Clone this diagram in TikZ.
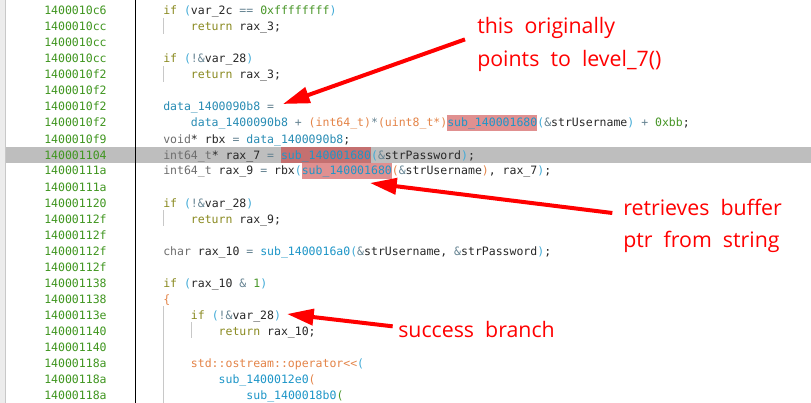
\documentclass[tikz,border=0pt]{standalone}
\usepackage{fontspec}
\usetikzlibrary{arrows.meta}
\usetikzlibrary{positioning}
\newfontfamily\codefont{DejaVu Sans Mono}
\newfontfamily\notefont{Open Sans}[WordSpace=2]

\definecolor{addrcol}{RGB}{64,150,32}
\definecolor{kwcol}{RGB}{138,138,32}
\definecolor{pncol}{RGB}{64,170,215}
\definecolor{orcol}{RGB}{228,132,72}
\definecolor{opcol}{RGB}{100,130,145}
\definecolor{numcol}{RGB}{72,150,40}
\definecolor{idcol}{RGB}{40,40,40}
\definecolor{fncol}{RGB}{30,150,200}
\definecolor{dtcol}{RGB}{40,140,180}
\definecolor{tycol}{RGB}{110,110,110}
\definecolor{hlcol}{RGB}{224,144,144}
\definecolor{hldcol}{RGB}{196,112,112}
\definecolor{selrow}{RGB}{190,190,190}
\definecolor{guidecol}{RGB}{200,200,200}
\definecolor{gutterbg}{RGB}{236,236,236}
\definecolor{notered}{RGB}{255,0,0}

\newcommand\ckw[1]{\textcolor{kwcol}{#1}}
\newcommand\cpn[1]{\textcolor{pncol}{#1}}
\newcommand\cor[1]{\textcolor{orcol}{#1}}
\newcommand\cop[1]{\textcolor{opcol}{#1}}
\newcommand\cnum[1]{\textcolor{numcol}{#1}}
\newcommand\cfn[1]{\textcolor{fncol}{#1}}
\newcommand\cdat[1]{\textcolor{dtcol}{#1}}
\newcommand\cty[1]{\textcolor{tycol}{#1}}
\newcommand\chl[2]{{\setlength{\fboxsep}{0pt}\colorbox{#1}{\vrule height 9pt depth 3pt width 0pt#2}}}

\tikzstyle{code}     = [anchor=base west, inner sep=0pt, text=idcol, font=\codefont\fontsize{8.63}{12}\selectfont]
\tikzstyle{addr}     = [code, text=addrcol]
\tikzstyle{note}     = [anchor=base west, inner sep=0pt, text=notered, font=\notefont\fontsize{16}{24}\selectfont]
\tikzstyle{guide}    = [guidecol, line width=0.75pt]
\tikzstyle{redarrow} = [notered, line width=3pt, -{Triangle[length=20pt,width=12pt]}]

\begin{document}
\begin{tikzpicture}[x=0.75pt,y=-0.75pt]
  % Canvas
  \useasboundingbox (0,0) rectangle (811,403);
  \fill[white] (0,0) rectangle (811,403);
  % Selected line
  \fill[selrow] (5,147) rectangle (811,163);
  % Gutter and separator
  \fill[gutterbg] (0,0) rectangle (5,403);
  \draw[guide] (5.5,0) -- (5.5,403);
  \draw[black, line width=0.75pt] (135.5,0) -- (135.5,403);
  % Indent guides
  \draw[guide] (163.5,18) -- (163.5,34);
  \draw[guide] (163.5,66) -- (163.5,82);
  \draw[guide] (163.5,210) -- (163.5,226);
  \draw[guide] (163.5,306) -- (163.5,403);
  \draw[guide] (191.2,322) -- (191.2,338);

  % Addresses
  \foreach \a [count=\i from 0] in {1400010c6,1400010cc,1400010cc,1400010cc,1400010f2,1400010f2,1400010f2,1400010f2,1400010f9,140001104,14000111a,14000111a,140001120,14000112f,14000112f,14000112f,14000112f,140001138,140001138,14000113e,140001140,140001140,14000118a,14000118a,14000118a}
    \node[addr] (a\i) at (44,15+16*\i) {\a};

  % Code
  \node[code] (c0) at (163,15) {\ckw{if} \cpn{(}var\_2c \cop{==} \cnum{0xffffffff}\cpn{)}};
  \node[code] (c1) at (190.7,31) {\ckw{return} rax\_3;};
  \node[code] (c3) at (163,63) {\ckw{if} \cpn{(}\cop{!\&}var\_28\cpn{)}};
  \node[code] (c4) at (190.7,79) {\ckw{return} rax\_3;};
  \node[code] (c6) at (163,111) {\cdat{data\_1400090b8} \cop{=}};
  \node[code] (c7) at (190.7,127) {\cdat{data\_1400090b8} \cop{+} \cor{(int64\_t)}\cop{*}\cor{(uint8\_t*)}\chl{hlcol}{\cfn{sub\_140001680}}\cpn{(}\cop{\&}strUsername\cpn{)} \cop{+} \cnum{0xbb};};
  \node[code] (c8) at (163,143) {\cty{void}* rbx \cop{=} \cdat{data\_1400090b8};};
  \node[code] (c9) at (163,159) {\cty{int64\_t}* rax\_7 \cop{=} \chl{hldcol}{\cfn{sub\_140001680}}\cpn{(}\cop{\&}strPassword\cpn{)};};
  \node[code] (c10) at (163,175) {\cty{int64\_t} rax\_9 \cop{=} rbx\cpn{(}\chl{hlcol}{\cfn{sub\_140001680}}\cor{(}\cop{\&}strUsername\cor{)}, rax\_7\cpn{)};};
  \node[code] (c12) at (163,207) {\ckw{if} \cpn{(}\cop{!\&}var\_28\cpn{)}};
  \node[code] (c13) at (190.7,223) {\ckw{return} rax\_9;};
  \node[code] (c15) at (163,255) {\cty{char} rax\_10 \cop{=} \cfn{sub\_1400016a0}\cpn{(}\cop{\&}strUsername, \cop{\&}strPassword\cpn{)};};
  \node[code] (c17) at (163,287) {\ckw{if} \cpn{(}rax\_10 \cop{\&} \cnum{1}\cpn{)}};
  \node[code] (c18) at (163,303) {\cor{\{}};
  \node[code] (c19) at (190.7,319) {\ckw{if} \cpn{(}\cop{!\&}var\_28\cpn{)}};
  \node[code] (c20) at (218.4,335) {\ckw{return} rax\_10;};
  \node[code] (c22) at (190.7,367) {\cor{std::ostream::operator<\kern0pt<}\cpn{(}};
  \node[code] (c23) at (218.4,383) {\cfn{sub\_1400012e0}\cor{(}};
  \node[code] (c24) at (246.2,399) {\cfn{sub\_1400018b0}\cnum{(}};

  % Notes
  \node[note] (orig1) at (477,34) {this originally};
  \node[note] (orig2) at (477,67) {points to level\_7()};
  \node[note] (ret1) at (623,215) {retrieves buffer};
  \node[note] (ret2) at (623,247) {ptr from string};
  \node[note] (succ) at (398,337) {success branch};

  % Arrows
  \coordinate (tip1) at (283,104);
  \coordinate (tip2) at (370,183);
  \coordinate (tip3) at (287,314);
  \draw[redarrow] ([xshift=-9pt]orig1.south west) -- (tip1);
  \draw[redarrow] ([xshift=-8pt,yshift=1.5pt]ret1.base west) -- (tip2);
  \draw[redarrow] ([xshift=-4pt,yshift=2pt]succ.west) -- (tip3);
\end{tikzpicture}
\end{document}
